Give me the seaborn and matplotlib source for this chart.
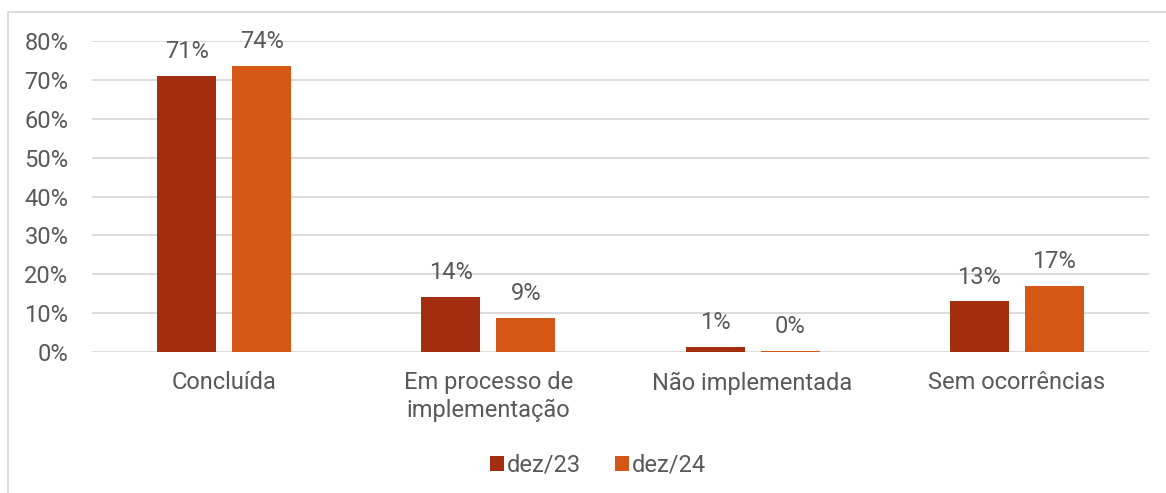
import pandas as pd
import matplotlib.pyplot as plt
import seaborn as sns
from matplotlib.patches import Patch
from matplotlib.lines import Line2D

categories = ['Concluída', 'Em processo de\nimplementação', 'Não implementada', 'Sem ocorrências']
periods = ['dez/23', 'dez/24']
dez23 = [71.0, 14.2, 1.3, 13.1]
dez24 = [73.6, 8.8, 0.3, 17.0]
colors = ['#A32D0F', '#D55716']
text_color = '#595959'
grid_color = '#D9D9D9'

df = pd.DataFrame({
    'Categoria': categories * 2,
    'Periodo': [periods[0]] * 4 + [periods[1]] * 4,
    'Valor': dez23 + dez24,
})

sns.set_theme(style='white')
plt.rcParams['font.family'] = ['Roboto', 'DejaVu Sans']
fs = 17

fig = plt.figure(figsize=(11.66, 4.93), dpi=100)
ax = fig.add_axes([92 / 1166, 1 - 352 / 493, (1149 - 92) / 1166, (352 - 41) / 493])

sns.barplot(data=df, x='Categoria', y='Valor', hue='Periodo', order=categories,
            hue_order=periods, palette=colors, width=0.568, gap=0.215,
            saturation=1, ax=ax, legend=False, zorder=3, linewidth=0)

for cont in ax.containers:
    for bar in cont:
        h = bar.get_height()
        ax.annotate(f'{h:.0f}%', (bar.get_x() + bar.get_width() / 2, h),
                    xytext=(0, 9), textcoords='offset points',
                    ha='center', va='bottom', fontsize=fs, color=text_color)

ax.set_ylim(0, 80)
ax.set_xlim(-0.5, 3.5)
ax.set_yticks(range(0, 81, 10))
ax.set_yticklabels([f'{v}%' for v in range(0, 81, 10)])
ax.yaxis.grid(True, color=grid_color, linewidth=1.3, zorder=0)
ax.set_axisbelow(True)
for s in ax.spines.values():
    s.set_visible(False)
ax.tick_params(axis='y', length=0, pad=17, labelsize=fs, labelcolor=text_color)
ax.tick_params(axis='x', length=0, pad=14, labelsize=fs, labelcolor=text_color)
for lbl in ax.get_xticklabels():
    lbl.set_linespacing(1.25)
ax.set_xlabel('')
ax.set_ylabel('')

handles = [Patch(facecolor=c, edgecolor='none') for c in colors]
fig.legend(handles, periods, loc='center', bbox_to_anchor=(598 / 1166, 1 - 465 / 493),
           ncol=2, frameon=False, fontsize=fs, labelcolor=text_color,
           handlelength=0.6, handleheight=0.6, handletextpad=0.15, columnspacing=1.4)

# light frame around the chart area
fig.add_artist(Line2D([8 / 1166, 8 / 1166], [0, 1 - 12 / 493], transform=fig.transFigure,
                      color=grid_color, linewidth=1.3))
fig.add_artist(Line2D([8 / 1166, 1], [1 - 12 / 493, 1 - 12 / 493], transform=fig.transFigure,
                      color=grid_color, linewidth=1.3))

fig.savefig('out.png', dpi=100)
